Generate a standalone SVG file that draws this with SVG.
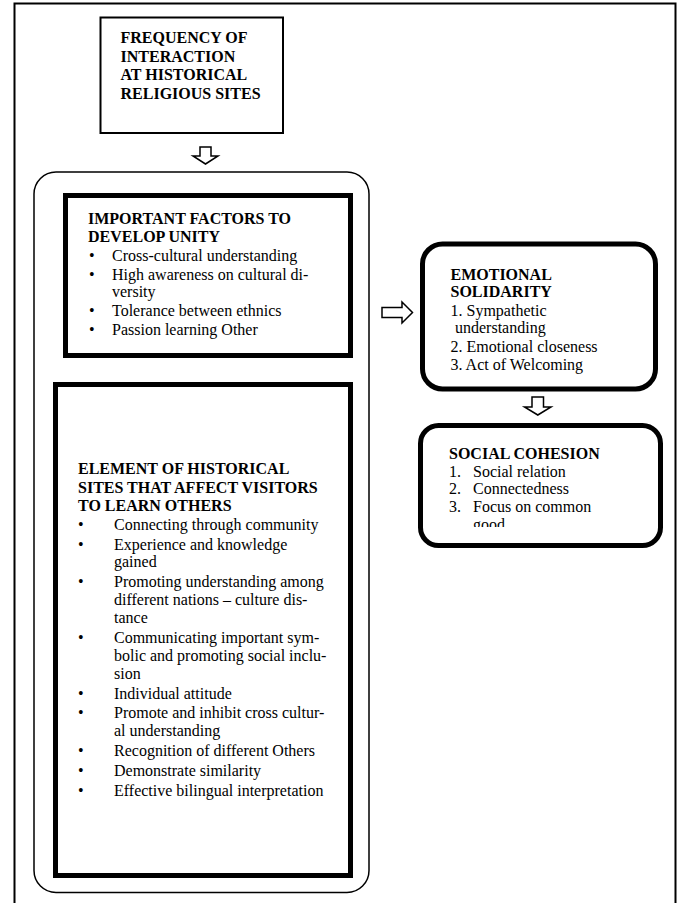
<svg xmlns="http://www.w3.org/2000/svg" width="682" height="903" viewBox="0 0 682 903">
<style>
text{font-family:"Liberation Serif","Times New Roman",serif;font-size:16px;fill:#000}
.b{font-weight:bold}
.thin{fill:#fff;stroke:#000;stroke-width:2}
.thick{fill:#fff;stroke:#000;stroke-width:5}
.arr{fill:#fff;stroke:#000;stroke-width:1.5;stroke-linejoin:miter}
</style>
<defs>
<clipPath id="scClip"><rect x="420" y="425" width="240" height="102"/></clipPath>
</defs>
<rect width="682" height="903" fill="#fff"/>
<path d="M14.5,905 V3.5 H675.5 V905" fill="none" stroke="#000" stroke-width="2"/>

<g id="frequency">
<rect class="thin" x="100.5" y="17.5" width="182.5" height="115.5"/>
<text class="b" x="120.5" y="43">FREQUENCY OF</text>
<text class="b" x="120.5" y="61.5">INTERACTION</text>
<text class="b" x="120.5" y="80">AT HISTORICAL</text>
<text class="b" x="120.5" y="98.5">RELIGIOUS SITES</text>
</g>

<g id="container">
<rect x="34" y="172" width="335" height="720.5" rx="22" ry="22" fill="none" stroke="#000" stroke-width="1.5"/>
</g>

<g id="factors">
<rect class="thick" x="65.5" y="195.5" width="285" height="160"/>
<text class="b" x="88" y="224">IMPORTANT FACTORS TO</text>
<text class="b" x="88" y="242">DEVELOP UNITY</text>
<text x="89" y="261">•</text><text x="112" y="261">Cross-cultural understanding</text>
<text x="89" y="280">•</text><text x="112" y="280">High awareness on cultural di-</text>
<text x="112" y="297">versity</text>
<text x="89" y="316">•</text><text x="112" y="316">Tolerance between ethnics</text>
<text x="89" y="335">•</text><text x="112" y="335">Passion learning Other</text>
</g>

<g id="elements">
<rect class="thick" x="55.5" y="384.5" width="295" height="491"/>
<text class="b" x="78" y="474">ELEMENT OF HISTORICAL</text>
<text class="b" x="78" y="492.5">SITES THAT AFFECT VISITORS</text>
<text class="b" x="78" y="511">TO LEARN OTHERS</text>
<text x="78" y="530">•</text><text x="114" y="530">Connecting through community</text>
<text x="78" y="549.5">•</text><text x="114" y="549.5">Experience and knowledge</text>
<text x="114" y="567">gained</text>
<text x="78" y="587">•</text><text x="114" y="587">Promoting understanding among</text>
<text x="114" y="605">different nations – culture dis-</text>
<text x="114" y="623">tance</text>
<text x="78" y="643">•</text><text x="114" y="643">Communicating important sym-</text>
<text x="114" y="661">bolic and promoting social inclu-</text>
<text x="114" y="679">sion</text>
<text x="78" y="699">•</text><text x="114" y="699">Individual attitude</text>
<text x="78" y="718">•</text><text x="114" y="718">Promote and inhibit cross cultur-</text>
<text x="114" y="736">al understanding</text>
<text x="78" y="756">•</text><text x="114" y="756">Recognition of different Others</text>
<text x="78" y="776">•</text><text x="114" y="776">Demonstrate similarity</text>
<text x="78" y="796">•</text><text x="114" y="796">Effective bilingual interpretation</text>
</g>

<g id="emotional">
<rect class="thick" x="422.5" y="244" width="233" height="145" rx="20" ry="20"/>
<text class="b" x="450.5" y="279.5">EMOTIONAL</text>
<text class="b" x="450.5" y="297">SOLIDARITY</text>
<text x="450.5" y="315.5">1. Sympathetic</text>
<text x="455" y="333">understanding</text>
<text x="450.5" y="352">2. Emotional closeness</text>
<text x="450.5" y="369.5">3. Act of Welcoming</text>
</g>

<g id="cohesion">
<rect class="thick" x="420.5" y="425.5" width="240" height="120" rx="18" ry="18"/>
<g clip-path="url(#scClip)">
<text class="b" x="449" y="459">SOCIAL COHESION</text>
<text x="449" y="476.5">1.</text><text x="473" y="476.5">Social relation</text>
<text x="449" y="494">2.</text><text x="473" y="494">Connectedness</text>
<text x="449" y="511.5">3.</text><text x="473" y="511.5">Focus on common</text>
<text x="473" y="530">good</text>
</g>
</g>

<g id="connectors">
<path class="arr" d="M200,147 H211 V156 H218 L205.5,164 L193,156 H200 Z"/>
<path class="arr" d="M382,307.5 H402 V302 L412.5,312.5 L402,323 V317.5 H382 Z"/>
<path class="arr" d="M532,397 H543.5 V407 H551 L537.8,415 L524.5,407 H532 Z"/>
</g>
</svg>
